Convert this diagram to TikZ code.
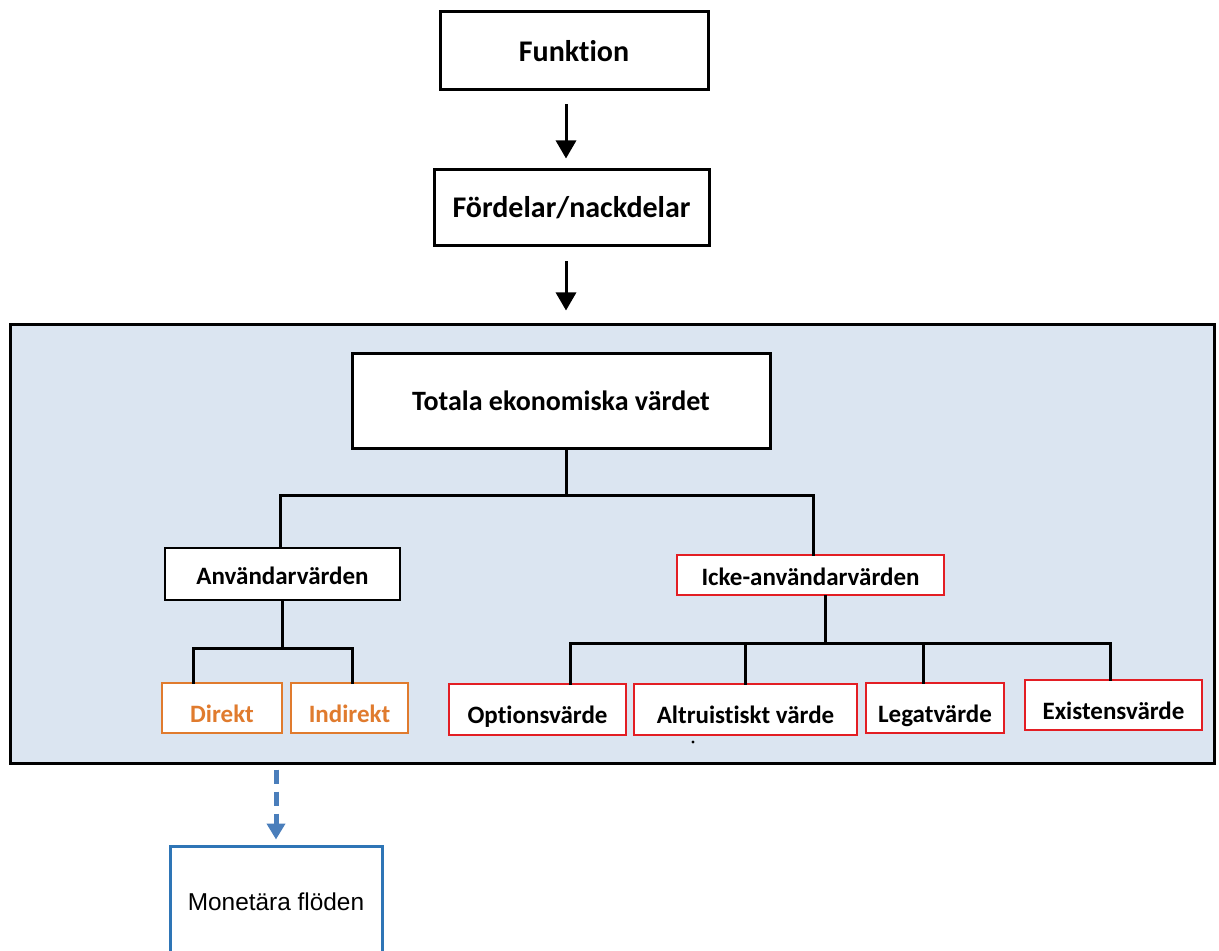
\documentclass[tikz,border=0pt]{standalone}
\usepackage{fontspec}
\setmainfont{Carlito}[Ligatures=NoCommon]
\newfontfamily\arialfont{Liberation Sans}
\usetikzlibrary{arrows.meta}
\definecolor{panelblue}{HTML}{DBE5F1}
\definecolor{boxorange}{HTML}{E07B2E}
\definecolor{boxred}{HTML}{E31E24}
\definecolor{boxblue}{HTML}{2E75B6}
\definecolor{arrowblue}{HTML}{4A7EBB}

\begin{document}
\begin{tikzpicture}[x=0.5pt,y=-0.5pt,
  box/.style={draw=black,fill=white,line width=1.5pt,inner sep=0pt,font=\bfseries},
  subbox/.style={draw=black,fill=white,line width=1pt,inner sep=0pt,font=\bfseries\fontsize{12.5}{14}\selectfont,text height=10.5pt,text depth=0.5pt},
  redbox/.style={subbox,draw=boxred},
  leafbox/.style={redbox,text height=14.5pt,text depth=0.5pt},
  orangebox/.style={leafbox,draw=boxorange,text=boxorange},
  tree/.style={line width=1.5pt,line cap=rect},
  arr/.style={line width=1.5pt,-{Triangle[width=10pt,length=9pt]}}]

\useasboundingbox (0,0) rectangle (1219,951);

\node[box,minimum width=134pt,minimum height=39pt,font=\bfseries\fontsize{15}{17}\selectfont] (fun) at (574,51) {Funktion};
\node[box,minimum width=137.5pt,minimum height=38pt,font=\bfseries\fontsize{15}{17}\selectfont] (ford) at (571.5,208) {Fördelar/nackdelar};

\node[draw=black,fill=panelblue,line width=1.5pt,minimum width=602pt,minimum height=219pt] (ram) at (612,544) {};

\draw[arr,shorten <=6.5pt,shorten >=5pt] (fun.south -| 566,0) -- (ford.north -| 566,0);
\draw[arr,shorten <=7pt,shorten >=6.5pt] (ford.south -| 566,0) -- (ram.north -| 566,0);

\node[box,minimum width=209pt,minimum height=47.5pt,font=\bfseries\fontsize{14}{16}\selectfont] (tev) at (561,401) {Totala ekonomiska värdet};

\node[subbox,minimum width=117.5pt,minimum height=26pt] (anv) at (282.5,574) {Användarvärden};
\node[redbox,minimum width=133.5pt,minimum height=20pt] (icke) at (810.5,575) {Icke-användarvärden};

\node[orangebox,minimum width=60pt,minimum height=25pt] (dir) at (222,708) {Direkt};
\node[orangebox,minimum width=58.5pt,minimum height=25pt] (ind) at (349.5,708) {Indirekt};

\node[leafbox,minimum width=88.5pt,minimum height=25.5pt] (opt) at (537.5,709.5) {Optionsvärde};
\node[leafbox,minimum width=111.5pt,minimum height=25.5pt] (alt) at (745.5,709.5) {Altruistiskt värde};
\node[leafbox,minimum width=69pt,minimum height=25pt] (leg) at (935,708) {Legatvärde};
\node[leafbox,minimum width=88.5pt,minimum height=25pt] (exi) at (1113.5,705) {Existensvärde};

\node[draw=boxblue,fill=white,line width=1.5pt,minimum width=106pt,minimum height=56pt,inner sep=0pt,
  font=\arialfont\fontsize{12.2}{14}\selectfont] (mon) at (276,902) {Monetära flöden};

% tree
\coordinate (j1) at (566,495);
\draw[tree] (tev.south -| j1) -- (j1);
\draw[tree] (anv.north -| 280,0) |- (j1) -| (icke.north -| 813,0);

\coordinate (d1) at (193,648);
\coordinate (d2) at (352,648);
\draw[tree] (anv.south) -- (anv.south |- d1);
\draw[tree] (dir.north -| d1) |- (d2) -- (ind.north -| d2);

\coordinate (e1) at (570,643);
\coordinate (e2) at (745,643);
\coordinate (e3) at (923,643);
\coordinate (e4) at (1110,643);
\draw[tree] (icke.south -| 825,0) -- (825,643);
\draw[tree] (opt.north -| e1) |- (e4) -- (exi.north -| e4);
\draw[tree] (e2) -- (alt.north -| e2);
\draw[tree] (e3) -- (leg.north -| e3);

\coordinate (prick) at (693,742);
\fill (prick) circle (1.6);

\draw[arrowblue,line width=2.5pt,dash pattern=on 7pt off 4pt,-{Triangle[width=9pt,length=8pt]},shorten <=2.5pt,shorten >=2.5pt]
  (ram.south -| mon.north) -- (mon.north);

\end{tikzpicture}
\end{document}
